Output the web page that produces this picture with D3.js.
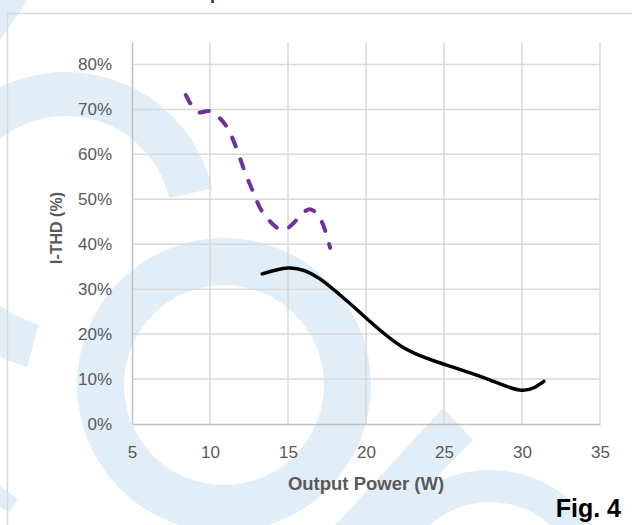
<!DOCTYPE html>
<html>
<head>
<meta charset="utf-8">
<script src="https://cdn.jsdelivr.net/npm/d3@7"></script>
<style>
  body { margin: 0; background: #fff; }
  svg { display: block; }
</style>
</head>
<body>
<div id="chart"></div>
<script>
// data (x in W, y in %)
var xTicks = [5, 10, 15, 20, 25, 30, 35];
var yTicks = [0, 10, 20, 30, 40, 50, 60, 70, 80];

var solidPower = [13.35, 15, 17, 20, 22.5, 25, 27.8, 30, 31.4];
var solidTHD   = [33.4, 34.7, 32.4, 23.6, 16.8, 13.3, 10.0, 7.5, 9.5];

var dashPower = [8.45, 9.2, 10, 11, 12.5, 13.5, 14.7, 16.4, 17.1, 17.7];
var dashTHD   = [73.2, 69.4, 69.6, 66.5, 53.8, 46.5, 43.2, 47.8, 45.4, 39.2];

var W = 632, H = 525;
var margin = {top: 42, right: 32, bottom: 101, left: 132};
var width = W - margin.left - margin.right;
var height = H - margin.top - margin.bottom;

var svg = d3.select("#chart")
    .append("svg")
    .attr("width", W)
    .attr("height", H);

// faint logo watermark behind the chart
var wm = svg.append("g").attr("fill", "#e2eef7");
wm.append("path")
    .attr("transform", "translate(66,222)")
    .attr("d", d3.arc().innerRadius(106).outerRadius(150)
        .startAngle(195 * Math.PI / 180).endAngle(437 * Math.PI / 180)());
wm.append("path")
    .attr("transform", "translate(224,385)")
    .attr("d", d3.arc().innerRadius(100).outerRadius(147)
        .startAngle(0).endAngle(2 * Math.PI)());
wm.append("path")
    .attr("transform", "translate(490,592)")
    .attr("d", d3.arc().innerRadius(90).outerRadius(122)
        .startAngle(-Math.PI / 2).endAngle(Math.PI / 2)());
wm.append("polygon").attr("points", "443,408 473,440 370,545 326,535");
wm.append("polygon").attr("points", "0,0 28,0 0,40");
wm.append("polygon").attr("points", "0,486 18,499 10,512 0,507");

// chart area border
svg.append("path")
    .attr("d", "M7.5," + (H + 2) + " V13.5 H" + (W + 2))
    .attr("fill", "none")
    .attr("stroke", "#d9d9d9")
    .attr("stroke-width", 1.5);

// title is cut off above the crop, only a descender shows
svg.append("text")
    .attr("x", 210)
    .attr("y", -1)
    .attr("font-family", "'Liberation Sans', Arial, sans-serif")
    .attr("font-weight", "bold")
    .attr("font-size", 18)
    .attr("fill", "#333")
    .text("p");

var g = svg.append("g")
    .attr("transform", "translate(" + margin.left + "," + margin.top + ")");

var x = d3.scaleLinear()
    .domain([5, 35])
    .range([0, width]);
var y = d3.scaleLinear()
    .domain([0, 85])
    .range([height, 0]);

// grid
g.append("g")
    .selectAll("line")
    .data(yTicks.filter(function(d) { return d > 0; }))
    .enter().append("line")
    .attr("x1", 0).attr("x2", width)
    .attr("y1", function(d) { return y(d); })
    .attr("y2", function(d) { return y(d); })
    .attr("stroke", "#d9d9d9")
    .attr("stroke-width", 1.5);
g.append("g")
    .selectAll("line")
    .data(xTicks.filter(function(d) { return d > 5; }))
    .enter().append("line")
    .attr("x1", function(d) { return x(d); })
    .attr("x2", function(d) { return x(d); })
    .attr("y1", 0).attr("y2", height)
    .attr("stroke", "#d9d9d9")
    .attr("stroke-width", 1.5);

// axes
var xAxis = g.append("g")
    .attr("transform", "translate(0," + height + ")")
    .call(d3.axisBottom(x).tickValues(xTicks).tickSize(0).tickPadding(22));
var yAxis = g.append("g")
    .call(d3.axisLeft(y).tickValues(yTicks).tickSize(0).tickPadding(20)
        .tickFormat(function(d) { return d + "%"; }));

[xAxis, yAxis].forEach(function(a) {
    a.select(".domain").attr("stroke", "#bfbfbf").attr("stroke-width", 1.5);
    a.selectAll("text")
        .attr("font-family", "'Liberation Sans', Arial, sans-serif")
        .attr("font-size", 17)
        .attr("fill", "#595959");
});

var solid = solidPower.map(function(p, i) { return {x: p, y: solidTHD[i]}; });
var dashed = dashPower.map(function(p, i) { return {x: p, y: dashTHD[i]}; });

var dashLine = d3.line()
    .x(function(d) { return x(d.x); })
    .y(function(d) { return y(d.y); })
    .curve(d3.curveCatmullRom.alpha(0.5));
var solidLine = d3.line()
    .x(function(d) { return x(d.x); })
    .y(function(d) { return y(d.y); })
    .curve(d3.curveNatural);

g.append("path")
    .datum(dashed)
    .attr("fill", "none")
    .attr("stroke", "#7030a0")
    .attr("stroke-width", 4)
    .attr("stroke-linecap", "round")
    .attr("stroke-dasharray", "9.5,13.5")
    .attr("d", dashLine);

g.append("path")
    .datum(solid)
    .attr("fill", "none")
    .attr("stroke", "#000")
    .attr("stroke-width", 3.5)
    .attr("stroke-linecap", "round")
    .attr("d", solidLine);

// axis titles
svg.append("text")
    .attr("x", margin.left + x(20))
    .attr("y", 490)
    .attr("text-anchor", "middle")
    .attr("font-family", "'Liberation Sans', Arial, sans-serif")
    .attr("font-weight", "bold")
    .attr("font-size", 18.5)
    .attr("fill", "#595959")
    .text("Output Power (W)");

svg.append("text")
    .attr("transform", "translate(62," + 228 + ") rotate(-90)")
    .attr("text-anchor", "middle")
    .attr("font-family", "'Liberation Sans', Arial, sans-serif")
    .attr("font-weight", "bold")
    .attr("font-size", 16)
    .attr("fill", "#595959")
    .text("I-THD (%)");

svg.append("text")
    .attr("x", 621)
    .attr("y", 517)
    .attr("text-anchor", "end")
    .attr("font-family", "'Liberation Sans', Arial, sans-serif")
    .attr("font-weight", "bold")
    .attr("font-size", 25)
    .attr("fill", "#000")
    .text("Fig. 4");
</script>
</body>
</html>
